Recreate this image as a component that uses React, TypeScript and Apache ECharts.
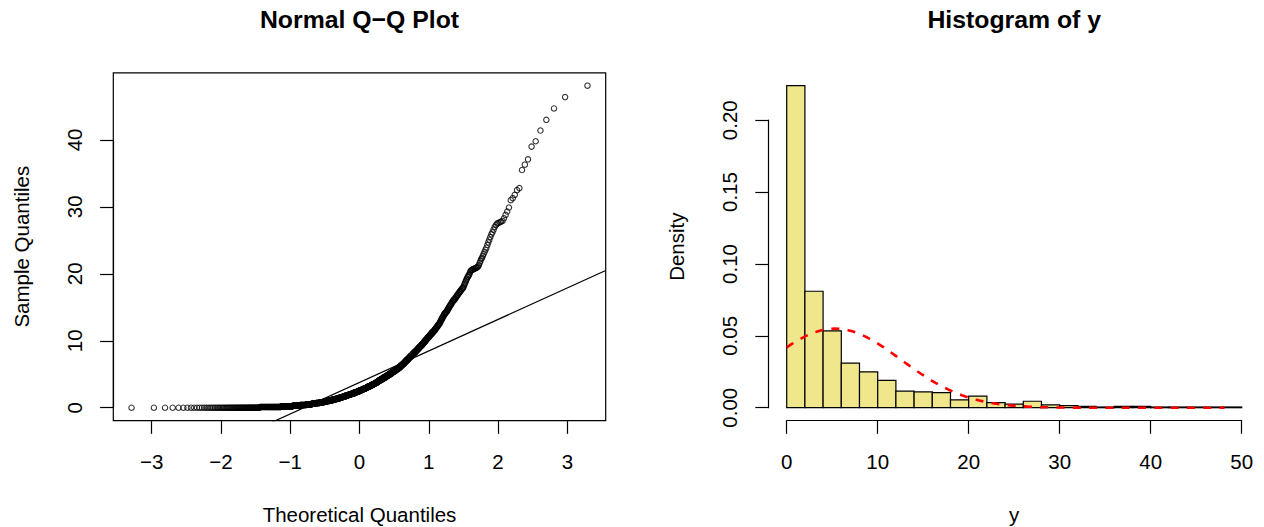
import React, { useEffect, useRef } from "react";
import * as echarts from "echarts";

// ---------------- data ----------------
// Sorted sample y (n = 1000). Dense part written as [value, count] runs,
// the sparse upper tail as individual values.
const yRunsDense: [number, number][] = [
  [0.0, 75], [0.1, 54], [0.2, 37], [0.3, 30], [0.4, 26], [0.5, 22], [0.6, 21], [0.7, 19],
  [0.8, 17], [0.9, 16], [1.0, 16], [1.1, 14], [1.2, 14], [1.3, 13], [1.4, 12], [1.5, 12],
  [1.6, 11], [1.7, 11], [1.8, 11], [1.9, 10], [1.97, 7],
  [2.05, 11], [2.15, 10], [2.25, 10], [2.35, 10], [2.45, 9], [2.55, 9], [2.65, 9], [2.75, 9],
  [2.85, 8], [2.95, 8], [3.05, 8], [3.15, 8], [3.25, 8], [3.35, 7], [3.45, 7], [3.55, 7],
  [3.65, 7], [3.75, 7], [3.85, 5], [3.95, 5],
  [4.1, 12], [4.3, 12], [4.5, 12], [4.7, 11], [4.9, 11], [5.1, 10], [5.3, 10], [5.5, 10], [5.7, 10], [5.9, 9],
  [6.1, 7], [6.3, 7], [6.5, 7], [6.7, 6], [6.9, 6], [7.1, 6], [7.3, 6], [7.5, 6], [7.7, 6], [7.9, 5],
  [8.1, 6], [8.3, 6], [8.5, 5], [8.7, 5], [8.9, 5], [9.1, 5], [9.3, 5], [9.5, 5], [9.7, 4], [9.9, 4],
  [10.1, 4], [10.3, 4], [10.5, 4], [10.7, 4], [10.9, 4], [11.1, 4], [11.3, 4], [11.5, 4], [11.7, 3], [11.9, 3],
  [12.1, 3], [12.3, 3], [12.5, 3], [12.7, 2], [12.9, 2], [13.1, 2], [13.3, 2], [13.5, 2], [13.7, 2], [13.9, 2],
  [14.1, 3], [14.3, 3], [14.5, 2], [14.7, 2], [14.9, 2], [15.1, 2], [15.3, 2], [15.5, 2], [15.7, 2], [15.9, 2],
  [16.1, 3], [16.3, 2], [16.5, 2], [16.7, 2], [16.9, 2], [17.1, 2], [17.3, 2], [17.5, 2], [17.7, 2], [17.9, 2],
];
const yTailValues: number[] = [
  18.1, 18.3, 18.5, 18.7, 18.9, 19.1, 19.3, 19.5, 19.6, 19.8, 19.9,
  20.2, 20.4, 20.5, 20.6, 20.6, 20.7, 20.7, 20.8, 20.8, 20.9, 20.9, 21.0, 21.1, 21.3, 21.6, 21.9,
  22.2, 22.4, 22.7, 23.0, 23.3, 23.6, 23.9,
  24.3, 24.7, 25.1, 25.5, 25.9,
  26.2, 26.6, 27.0, 27.3, 27.5, 27.6, 27.7, 27.8, 27.9,
  28.3, 28.8, 29.3, 29.9,
  31.0, 31.3, 31.8,
  32.5, 32.8, 35.5, 36.3, 37.1, 39.0, 39.8, 41.4, 43.0, 44.7, 46.4, 48.1,
];

const histBreakStart = 0;
const histBreakEnd = 50;
const histBinWidth = 2;

const qqXTicks = [-3, -2, -1, 0, 1, 2, 3];
const qqYTicks = [0, 10, 20, 30, 40];
const histXTicks = [0, 10, 20, 30, 40, 50];
const histYTicks = [0, 0.05, 0.1, 0.15, 0.2];

const qqTitle = "Normal Q\u2212Q Plot";
const histTitle = "Histogram of y";
const qqXLab = "Theoretical Quantiles";
const qqYLab = "Sample Quantiles";
const histXLab = "y";
const histYLab = "Density";

// ---------------- layout / style ----------------
const W = 1264;
const H = 527;
const QQ_BOX = { left: 113.3, top: 72.8, width: 492.4, height: 347.8 };
const HIST_BOX = { left: 768.5, top: 72.8, width: 491.4, height: 347.8 };
const FONT = "'Liberation Sans', Arial, Helvetica, sans-serif";
const FS = 20.5;
const TITLE_FS = 24.8;
const TICK_LEN = 13.2;
const LW = 1.2;

// ---------------- helpers ----------------
function qnorm(p: number): number {
  const a = [-3.969683028665376e1, 2.209460984245205e2, -2.759285104469687e2, 1.38357751867269e2, -3.066479806614716e1, 2.506628277459239];
  const b = [-5.447609879822406e1, 1.615858368580409e2, -1.556989798598866e2, 6.680131188771972e1, -1.328068155288572e1];
  const c = [-7.784894002430293e-3, -3.223964580411365e-1, -2.400758277161838, -2.549732539343734, 4.374664141464968, 2.938163982698783];
  const d = [7.784695709041462e-3, 3.224671290700398e-1, 2.445134137142996, 3.754408661907416];
  const pl = 0.02425;
  const ph = 1 - pl;
  if (p < pl) {
    const q = Math.sqrt(-2 * Math.log(p));
    return (((((c[0] * q + c[1]) * q + c[2]) * q + c[3]) * q + c[4]) * q + c[5]) / ((((d[0] * q + d[1]) * q + d[2]) * q + d[3]) * q + 1);
  }
  if (p <= ph) {
    const q = p - 0.5;
    const r = q * q;
    return ((((((a[0] * r + a[1]) * r + a[2]) * r + a[3]) * r + a[4]) * r + a[5]) * q) / (((((b[0] * r + b[1]) * r + b[2]) * r + b[3]) * r + b[4]) * r + 1);
  }
  const q = Math.sqrt(-2 * Math.log(1 - p));
  return -(((((c[0] * q + c[1]) * q + c[2]) * q + c[3]) * q + c[4]) * q + c[5]) / ((((d[0] * q + d[1]) * q + d[2]) * q + d[3]) * q + 1);
}

function quantile7(sorted: number[], p: number): number {
  const h = (sorted.length - 1) * p;
  const lo = Math.floor(h);
  const hi = Math.min(lo + 1, sorted.length - 1);
  return sorted[lo] + (h - lo) * (sorted[hi] - sorted[lo]);
}

function rMinus(v: number): string {
  return v < 0 ? "\u2212" + String(Math.abs(v)) : String(v);
}

function buildOption() {
  // expand sample
  const y: number[] = [];
  yRunsDense.forEach(([v, n]) => {
    for (let i = 0; i < n; i++) y.push(v);
  });
  yTailValues.forEach((v) => y.push(v));
  y.sort((p, q) => p - q);
  const n = y.length;

  // Q-Q points
  const theo = y.map((_, i) => qnorm((i + 1 - 0.5) / n));
  const qqData = y.map((v, i) => [theo[i], v]);
  const tMin = theo[0];
  const tMax = theo[n - 1];
  const yMin = y[0];
  const yMax = y[n - 1];
  const qxu0 = tMin - 0.04 * (tMax - tMin);
  const qxu1 = tMax + 0.04 * (tMax - tMin);
  const qyu0 = yMin - 0.04 * (yMax - yMin);
  const qyu1 = yMax + 0.04 * (yMax - yMin);

  // qqline
  const q1 = quantile7(y, 0.25);
  const q3 = quantile7(y, 0.75);
  const z1 = qnorm(0.25);
  const z3 = qnorm(0.75);
  const slope = (q3 - q1) / (z3 - z1);
  const intercept = q1 - slope * z1;
  const qqLine = [
    [qxu0, intercept + slope * qxu0],
    [qxu1, intercept + slope * qxu1],
  ];

  // histogram
  const nb = Math.round((histBreakEnd - histBreakStart) / histBinWidth);
  const counts = new Array(nb).fill(0);
  y.forEach((v) => {
    let k = Math.ceil((v - histBreakStart) / histBinWidth) - 1;
    if (k < 0) k = 0;
    if (k >= nb) k = nb - 1;
    counts[k]++;
  });
  const histData = counts.map((cnt, k) => [
    histBreakStart + k * histBinWidth,
    histBreakStart + (k + 1) * histBinWidth,
    cnt / (n * histBinWidth),
  ]);
  const maxD = Math.max(...histData.map((d) => d[2]));
  const hxu0 = histBreakStart - 0.04 * (histBreakEnd - histBreakStart);
  const hxu1 = histBreakEnd + 0.04 * (histBreakEnd - histBreakStart);
  const hyu0 = -0.04 * maxD;
  const hyu1 = maxD + 0.04 * maxD;

  // normal density curve with the sample mean and sd
  const mean = y.reduce((s, v) => s + v, 0) / n;
  const sd = Math.sqrt(y.reduce((s, v) => s + (v - mean) * (v - mean), 0) / (n - 1));
  const curve: number[][] = [];
  for (let k = 0; k <= 100; k++) {
    const x = yMin + ((yMax - yMin) * k) / 100;
    const dens = Math.exp(-((x - mean) * (x - mean)) / (2 * sd * sd)) / (sd * Math.sqrt(2 * Math.PI));
    curve.push([x, dens]);
  }

  // pixel helpers for the axis grids (axes span first..last tick, like R)
  const qpx = (v: number) => QQ_BOX.left + ((v - qxu0) / (qxu1 - qxu0)) * QQ_BOX.width;
  const qpy = (v: number) => QQ_BOX.top + QQ_BOX.height - ((v - qyu0) / (qyu1 - qyu0)) * QQ_BOX.height;
  const hpx = (v: number) => HIST_BOX.left + ((v - hxu0) / (hxu1 - hxu0)) * HIST_BOX.width;
  const hpy = (v: number) => HIST_BOX.top + HIST_BOX.height - ((v - hyu0) / (hyu1 - hyu0)) * HIST_BOX.height;

  const txt = { color: "#000", fontFamily: FONT, fontSize: FS };
  const hiddenParts = {
    axisLine: { show: false },
    axisTick: { show: false },
    axisLabel: { show: false },
    splitLine: { show: false },
  };
  const lineStyle = { color: "#000", width: LW };
  const gridBase = { outerBoundsMode: "none", containLabel: false };

  const qx0 = qqXTicks[0], qx1 = qqXTicks[qqXTicks.length - 1];
  const qy0 = qqYTicks[0], qy1 = qqYTicks[qqYTicks.length - 1];
  const hx0 = histXTicks[0], hx1 = histXTicks[histXTicks.length - 1];
  const hy0 = histYTicks[0], hy1 = histYTicks[histYTicks.length - 1];

  const grids = [
    { ...gridBase, left: QQ_BOX.left, top: QQ_BOX.top, width: QQ_BOX.width, height: QQ_BOX.height, show: true, borderColor: "#000", borderWidth: LW, backgroundColor: "transparent" },
    { ...gridBase, left: qpx(qx0), width: qpx(qx1) - qpx(qx0), top: QQ_BOX.top, height: QQ_BOX.height },
    { ...gridBase, left: QQ_BOX.left, width: QQ_BOX.width, top: qpy(qy1), height: qpy(qy0) - qpy(qy1) },
    { ...gridBase, left: HIST_BOX.left, top: HIST_BOX.top, width: HIST_BOX.width, height: HIST_BOX.height },
    { ...gridBase, left: hpx(hx0), width: hpx(hx1) - hpx(hx0), top: HIST_BOX.top, height: HIST_BOX.height },
    { ...gridBase, left: HIST_BOX.left, width: HIST_BOX.width, top: hpy(hy1), height: hpy(hy0) - hpy(hy1) },
  ];

  const xLabelAxis = (gridIndex: number, min: number, max: number, interval: number, fmt: (v: number) => string) => ({
    gridIndex, type: "value", position: "bottom", min, max, interval,
    axisLine: { show: true, onZero: false, lineStyle },
    axisTick: { show: true, inside: false, length: TICK_LEN, lineStyle },
    axisLabel: { show: true, margin: 30.3, formatter: fmt, showMinLabel: true, showMaxLabel: true, ...txt },
    splitLine: { show: false },
  });
  const yLabelAxis = (gridIndex: number, min: number, max: number, interval: number, fmt: (v: number) => string) => ({
    gridIndex, type: "value", position: "left", min, max, interval,
    axisLine: { show: true, onZero: false, lineStyle },
    axisTick: { show: true, inside: false, length: TICK_LEN, lineStyle },
    axisLabel: { show: true, rotate: 90, margin: 28.6, formatter: fmt, showMinLabel: true, showMaxLabel: true, ...txt },
    splitLine: { show: false },
  });
  const hiddenAxis = (gridIndex: number) => ({ gridIndex, type: "value", show: false, min: 0, max: 1, splitLine: { show: false } });

  const xAxes = [
    { gridIndex: 0, type: "value", min: qxu0, max: qxu1, ...hiddenParts, name: qqXLab, nameLocation: "middle", nameGap: 83.3, nameMoveOverlap: false, nameTextStyle: txt },
    xLabelAxis(1, qx0, qx1, qqXTicks[1] - qqXTicks[0], rMinus),
    hiddenAxis(2),
    { gridIndex: 3, type: "value", min: hxu0, max: hxu1, ...hiddenParts, name: histXLab, nameLocation: "middle", nameGap: 83.3, nameMoveOverlap: false, nameTextStyle: txt },
    xLabelAxis(4, hx0, hx1, histXTicks[1] - histXTicks[0], rMinus),
    hiddenAxis(5),
  ];
  const yAxes = [
    { gridIndex: 0, type: "value", min: qyu0, max: qyu1, ...hiddenParts, name: qqYLab, nameLocation: "middle", nameRotate: 90, nameGap: 81.6, nameMoveOverlap: false, nameTextStyle: txt },
    hiddenAxis(1),
    yLabelAxis(2, qy0, qy1, qqYTicks[1] - qqYTicks[0], rMinus),
    { gridIndex: 3, type: "value", min: hyu0, max: hyu1, ...hiddenParts, name: histYLab, nameLocation: "middle", nameRotate: 90, nameGap: 81.6, nameMoveOverlap: false, nameTextStyle: txt },
    hiddenAxis(4),
    yLabelAxis(5, hy0, hy1, histYTicks[1] - histYTicks[0], (v: number) => v.toFixed(2)),
  ];

  return {
    animation: false,
    backgroundColor: "#fff",
    textStyle: { fontFamily: FONT },
    title: [
      { text: qqTitle, left: QQ_BOX.left + QQ_BOX.width / 2, top: 7.3, textAlign: "center", padding: 0, textStyle: { color: "#000", fontFamily: FONT, fontSize: TITLE_FS, fontWeight: "bold" } },
      { text: histTitle, left: HIST_BOX.left + HIST_BOX.width / 2, top: 7.3, textAlign: "center", padding: 0, textStyle: { color: "#000", fontFamily: FONT, fontSize: TITLE_FS, fontWeight: "bold" } },
    ],
    grid: grids,
    xAxis: xAxes,
    yAxis: yAxes,
    series: [
      {
        type: "scatter", xAxisIndex: 0, yAxisIndex: 0, data: qqData, symbol: "circle", symbolSize: 5.4,
        itemStyle: { color: "rgba(0,0,0,0)", borderColor: "#000", borderWidth: 1.1 },
        large: false, progressive: 0, silent: true, clip: true, emphasis: { disabled: true },
      },
      {
        type: "line", xAxisIndex: 0, yAxisIndex: 0, data: qqLine, symbol: "none", clip: true, silent: true,
        lineStyle: { color: "#000", width: LW },
      },
      {
        type: "custom", xAxisIndex: 3, yAxisIndex: 3, data: histData, encode: { x: [0, 1], y: 2 }, silent: true, clip: false,
        renderItem: (_params: any, api: any) => {
          const p0 = api.coord([api.value(0), 0]);
          const p1 = api.coord([api.value(1), api.value(2)]);
          return {
            type: "rect",
            shape: { x: p0[0], y: p1[1], width: p1[0] - p0[0], height: p0[1] - p1[1] },
            style: { fill: "#F0E68C", stroke: "#000", lineWidth: LW },
          };
        },
      },
      {
        type: "line", xAxisIndex: 3, yAxisIndex: 3, data: curve, symbol: "none", clip: true, silent: true, z: 5,
        lineStyle: { color: "#FF0000", width: 2.6, type: [8, 8.3] },
      },
    ],
  };
}

export default function App() {
  const ref = useRef<HTMLDivElement | null>(null);
  useEffect(() => {
    if (!ref.current) return;
    const chart = echarts.init(ref.current, null, { renderer: "svg" });
    chart.setOption(buildOption() as any);
    return () => chart.dispose();
  }, []);
  return (
    <div
      ref={ref}
      style={{ position: "fixed", left: 0, top: 0, width: W, height: H, background: "#fff" }}
    />
  );
}
